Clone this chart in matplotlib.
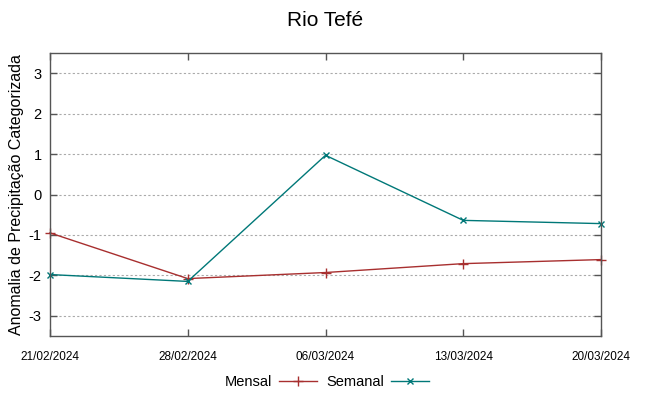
import matplotlib
matplotlib.use('Agg')
import matplotlib.pyplot as plt
from matplotlib import font_manager

plt.rcParams['font.family'] = ['Liberation Sans', 'DejaVu Sans']

# dados
datas = ['21/02/2024', '28/02/2024', '06/03/2024', '13/03/2024', '20/03/2024']
mensal = [-0.95, -2.08, -1.93, -1.71, -1.61]
semanal = [-1.98, -2.15, 0.97, -0.64, -0.72]
yticks = [-3, -2, -1, 0, 1, 2, 3]

nomes = {f.name for f in font_manager.fontManager.ttflist}
fonte_datas = 'Liberation Sans Narrow' if 'Liberation Sans Narrow' in nomes else 'Liberation Sans'
tam_datas = 10 if fonte_datas == 'Liberation Sans Narrow' else 8.5

fig = plt.figure(figsize=(6.49, 3.96), dpi=100)
ax = fig.add_axes([50/649, 1-336/396, 551/649, 283/396])

x = list(range(len(datas)))
ax.plot(x, mensal, color='#a82f2f', lw=1, marker='+', ms=7, mew=1, label='Mensal', clip_on=False)
ax.plot(x, semanal, color='#007878', lw=1, marker='x', ms=5, mew=1, label='Semanal', clip_on=False)

ax.set_xlim(0, len(datas)-1)
ax.set_ylim(-3.5, 3.5)
ax.set_xticks(x)
ax.set_xticklabels(datas, fontsize=tam_datas, family=[fonte_datas, 'DejaVu Sans'])
ax.set_yticks(yticks)
ax.set_yticklabels([str(v) for v in yticks], fontsize=10.5)
ax.tick_params(axis='both', direction='in', top=True, right=True, length=5, width=1, color='#555555')
ax.tick_params(axis='x', pad=11)
ax.tick_params(axis='y', pad=6)
ax.grid(axis='y', linestyle=(0, (2, 2)), color='#aaaaaa', lw=0.8)
for s in ax.spines.values():
    s.set_color('#555555')
    s.set_linewidth(1)

ax.set_ylabel('Anomalia de Precipitação Categorizada', fontsize=11.5, labelpad=3)
fig.text(325/649, 1-20/396, 'Rio Tefé', ha='center', va='center', fontsize=15)

fig.legend(loc='center', bbox_to_anchor=(327/649, 1-382/396), ncol=2, frameon=False,
           markerfirst=False, fontsize=10.5, handlelength=2.6, columnspacing=0.6, handletextpad=0.5)

fig.savefig('out.png', dpi=100)
